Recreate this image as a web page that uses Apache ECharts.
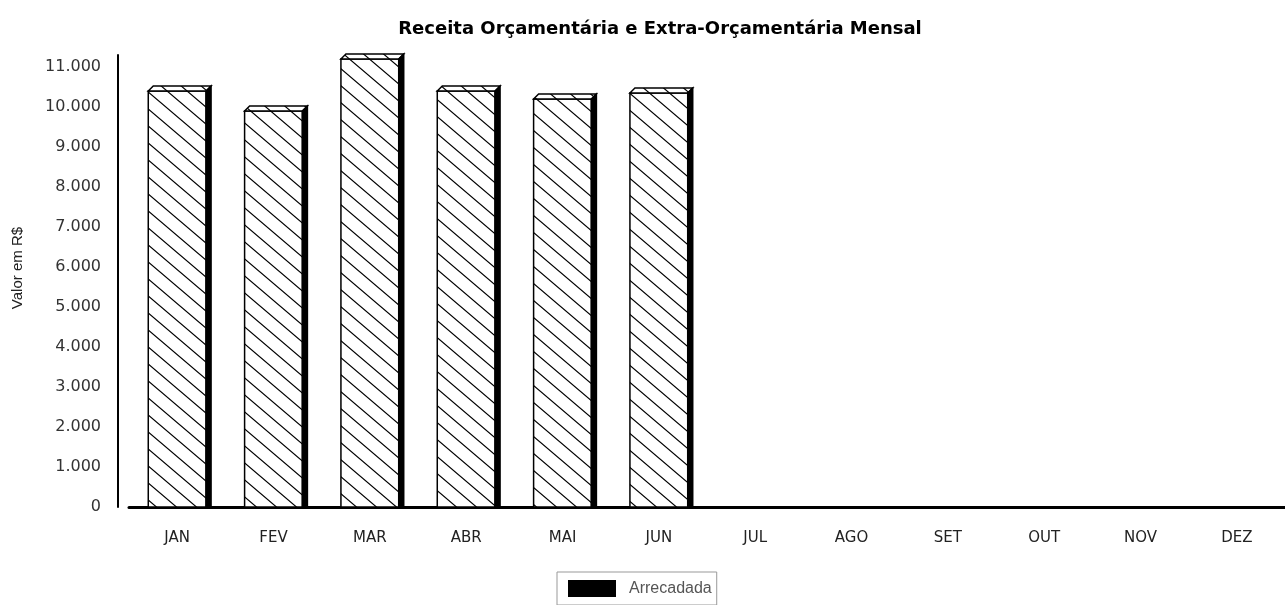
<!DOCTYPE html>
<html>
<head>
<meta charset="utf-8">
<script src="https://cdn.jsdelivr.net/npm/echarts@6/dist/echarts.min.js"></script>
<style>
  html, body { margin: 0; padding: 0; background: #fff; }
  #chart { width: 1285px; height: 605px; }
</style>
</head>
<body>
<div id="chart"></div>
<script>
// monthly values (R$)
const months = ["JAN", "FEV", "MAR", "ABR", "MAI", "JUN", "JUL", "AGO", "SET", "OUT", "NOV", "DEZ"]
const arrecadada = [10400, 9900, 11200, 10400, 10200, 10350, 0, 0, 0, 0, 0, 0]
const yMax = 11300
const yStep = 1000

// diagonal hatch used on the bar faces
function makeHatch(w, h) {
  const c = document.createElement("canvas")
  c.width = w
  c.height = h
  const ctx = c.getContext("2d")
  ctx.fillStyle = "#fff"
  ctx.fillRect(0, 0, w, h)
  ctx.strokeStyle = "#000"
  ctx.lineWidth = 1.2
  ctx.beginPath()
  for (const [ox, oy] of [[0, 0], [-w, 0], [w, 0], [0, -h], [0, h]]) {
    ctx.moveTo(ox - w * 0.1, oy - h * 0.1)
    ctx.lineTo(ox + w * 1.1, oy + h * 1.1)
  }
  ctx.stroke()
  return c
}
const hatch = { image: makeHatch(20, 17), repeat: "repeat" }

function fmtThousands(v) {
  return String(v).replace(/\B(?=(\d{3})+(?!\d))/g, ".")
}

const chart = echarts.init(document.getElementById("chart"))

const option = {
  backgroundColor: "#fff",
  animation: false,
  title: {
    text: "Receita Orçamentária e Extra-Orçamentária Mensal",
    left: 655,
    top: 15,
    textAlign: "center",
    textStyle: {
      fontFamily: "DejaVu Sans",
      fontWeight: "bold",
      fontSize: 18,
      color: "#000",
    },
  },
  legend: {
    data: ["Arrecadada"],
    left: 557,
    top: 572,
    padding: [8, 5, 8, 11],
    borderColor: "#999",
    borderWidth: 1,
    icon: "rect",
    itemWidth: 48,
    itemHeight: 17,
    itemGap: 10,
    textStyle: {
      fontFamily: "Liberation Sans",
      fontSize: 16,
      color: "#555",
      padding: [0, 0, 0, 8],
    },
  },
  grid: {
    left: 129,
    right: -3,
    top: 55,
    bottom: 98,
  },
  xAxis: {
    type: "category",
    data: months,
    axisLine: { lineStyle: { color: "#000", width: 3 } },
    axisTick: { show: false },
    axisLabel: {
      margin: 24,
      fontFamily: "DejaVu Sans",
      fontSize: 15,
      color: "#222",
    },
  },
  yAxis: {
    type: "value",
    min: 0,
    max: yMax,
    interval: yStep,
    offset: 11,
    name: "Valor em R$",
    nameLocation: "middle",
    nameGap: 93,
    nameTextStyle: {
      fontFamily: "Liberation Sans",
      fontSize: 15,
      color: "#222",
      padding: [0, 0, 0, 26],
    },
    axisLine: { show: true, lineStyle: { color: "#000", width: 2 } },
    axisTick: { show: false },
    splitLine: { show: false },
    axisLabel: {
      margin: 17,
      fontFamily: "DejaVu Sans",
      fontSize: 16,
      color: "#333",
      formatter: (v) => (v % yStep === 0 ? fmtThousands(v) : ""),
    },
  },
  series: [
    {
      name: "Arrecadada",
      type: "custom",
      itemStyle: { color: "#000" },
      data: arrecadada.map((v, i) => [i, v]),
      renderItem: (params, api) => {
        const v = api.value(1)
        if (!v) return
        const base = api.coord([api.value(0), 0])
        const top = api.coord([api.value(0), v])
        const w = api.size([1, 0])[0] * 0.6
        const d = 5
        const x0 = base[0] - w / 2
        const x1 = x0 + w
        return {
          type: "group",
          children: [
            {
              type: "rect",
              shape: { x: x0, y: top[1], width: w, height: base[1] - top[1] },
              style: { fill: hatch, stroke: "#000", lineWidth: 1.5 },
            },
            {
              type: "polygon",
              shape: { points: [[x0, top[1]], [x0 + d, top[1] - d], [x1 + d, top[1] - d], [x1, top[1]]] },
              style: { fill: hatch, stroke: "#000", lineWidth: 1.5 },
            },
            {
              type: "polygon",
              shape: { points: [[x1, top[1]], [x1 + d, top[1] - d], [x1 + d, base[1]], [x1, base[1]]] },
              style: { fill: "#000", stroke: "#000", lineWidth: 1.5 },
            },
          ],
        }
      },
    },
  ],
}

chart.setOption(option)
</script>
</body>
</html>
